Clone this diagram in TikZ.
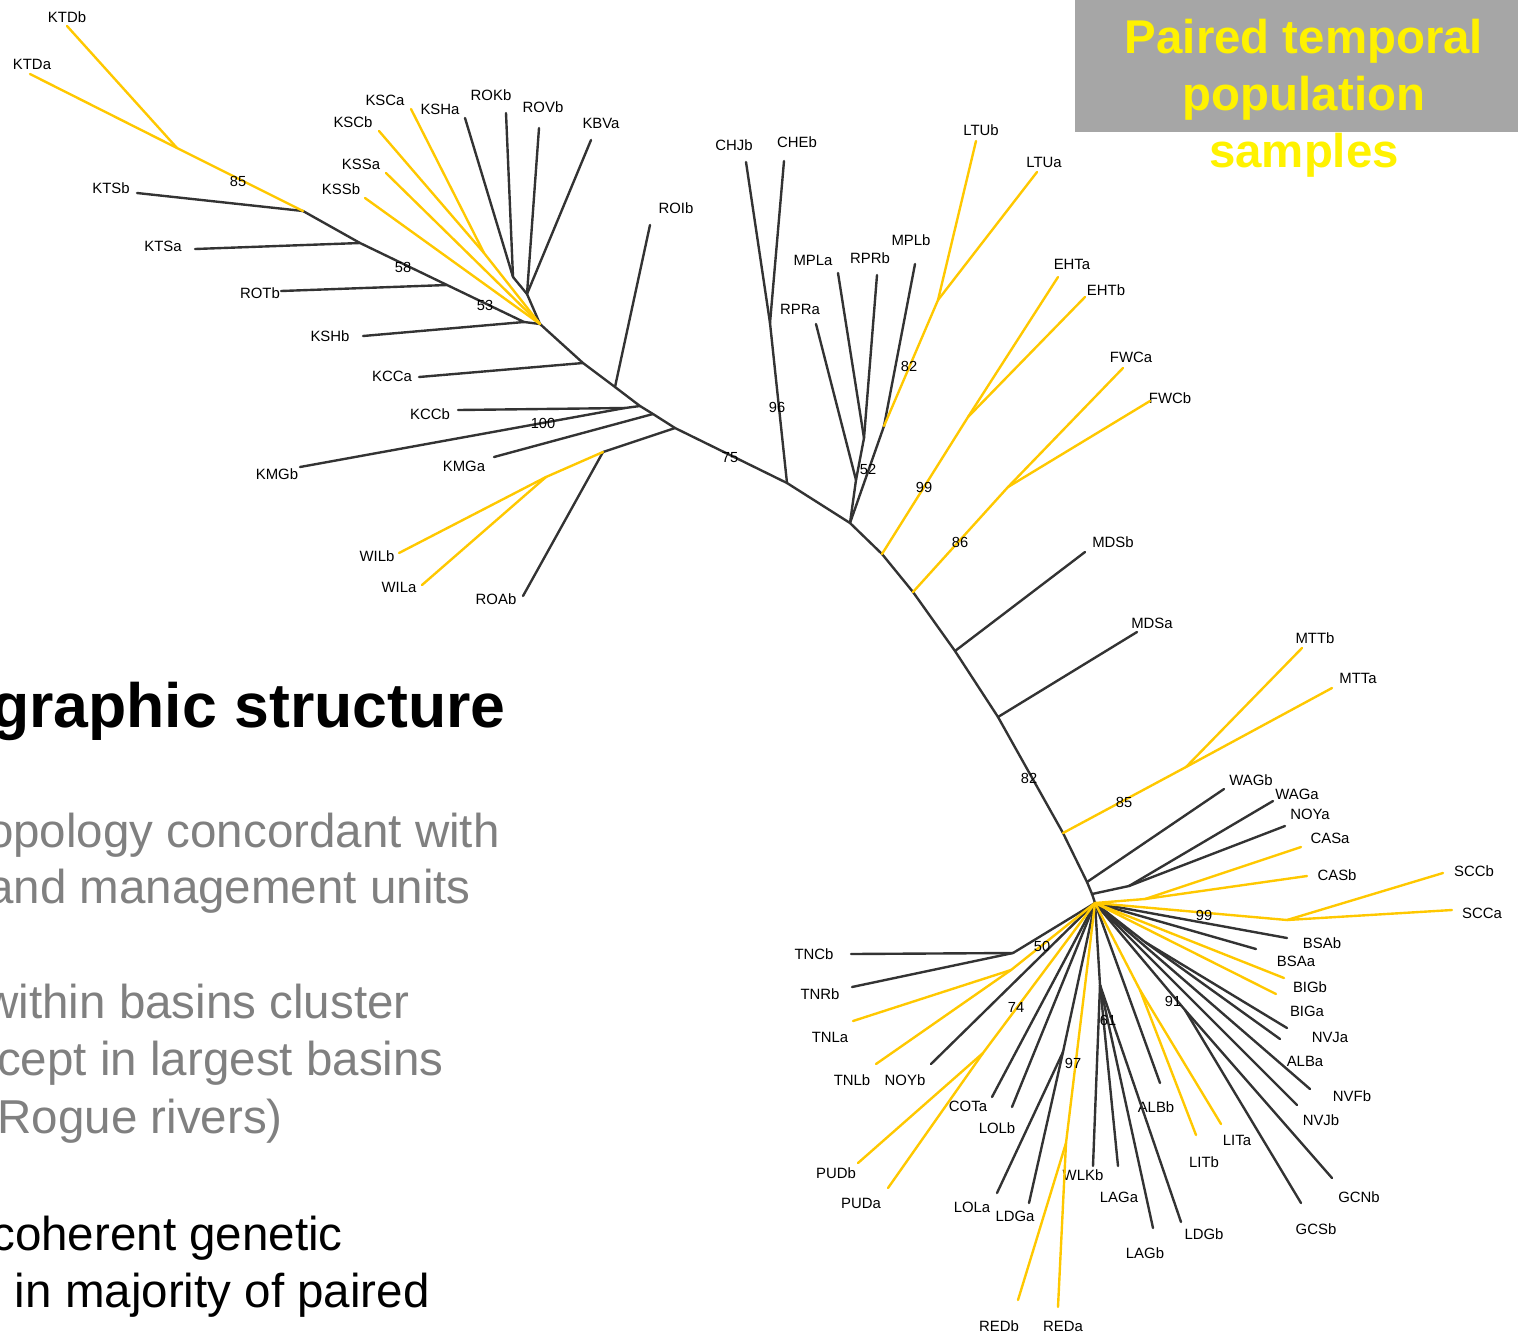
\documentclass[tikz,border=0pt]{standalone}
\usepackage{fontspec}
\setmainfont{Liberation Sans}

\definecolor{branchgrey}{HTML}{333333}
\definecolor{pairgold}{HTML}{FFC800}
\definecolor{titleyellow}{HTML}{FFF200}
\definecolor{boxgrey}{HTML}{A6A6A6}
\definecolor{textgrey}{HTML}{808080}

\tikzset{
  blk/.style={draw=branchgrey, line width=1.7pt},
  ylw/.style={draw=pairgold, line width=1.7pt},
  taxon/.style={font=\fontsize{10.6}{12}\selectfont, inner sep=0pt, text=black},
  boot/.style={font=\fontsize{10.4}{12}\selectfont, inner sep=0pt, text=black},
  slide/.style={anchor=base east, inner sep=0pt, font=\fontsize{33.8}{40}\selectfont},
}

\begin{document}
\begin{tikzpicture}[x=0.025cm, y=-0.025cm, line cap=round]
  \clip (0,0) rectangle (1518,1336);

  % --- Title box ---
  \fill[boxgrey] (1075,0) rectangle (1518,132);
  \foreach \t/\y [count=\i] in {Paired temporal/53, population/110, samples/167}
    \node[anchor=base, inner sep=0pt, text=titleyellow,
          font=\fontsize{33.7}{40}\selectfont\bfseries] (title\i) at (1304,\y) {\t};

  % --- Slide text (cut at the left edge) ---
  \node[anchor=base east, inner sep=0pt, font=\fontsize{44.5}{50}\selectfont\bfseries]
    (heading) at (506,727) {graphic structure};
  \node[slide, text=textgrey] (grey1) at (500,847) {opology concordant with};
  \node[slide, text=textgrey] (grey2) at (471,903) {and management units};
  \node[slide, text=textgrey] (grey3) at (410,1018) {within basins cluster};
  \node[slide, text=textgrey] (grey4) at (444,1075) {cept in largest basins};
  \node[slide, text=textgrey] (grey5) at (283,1133) {Rogue rivers)};
  \node[slide] (black1) at (343,1250) {coherent genetic};
  \node[slide] (black2) at (430,1307) {in majority of paired};

  % --- Internal nodes of the tree ---
  \foreach \n/\x/\y in {kTD/177/148, kTS/303/211, m1/360/243, m2/447/285,
      m3/524/322, kS/540/324, kSC/484/253, kR1/513/277, kR2/527/294,
      m4/583/363, m5/615/387, m6/640/406, kMG/625/408, m7/653/414,
      m8/675/428, kRW/603/452, kWI/546/477, m9/787/483, cCH/770/323,
      m10/850/523, cR1/856/480, cR2/864/438, cMP/884/426, cLT/938/300,
      m11/882/554, cEH/968/417, m12/913/592, cFW/1008/487, m13/955/651,
      m14/998/717, m15/1063/833, cMT/1186/767, m16/1087/882, m17/1092/894,
      cWA/1129/886, hub/1095/903, cCA/1145/899, cSC/1287/920, cNV/1145/942,
      c91/1185/1010, cTN/1013/953, cTL/1011/970, cPU/983/1053, c97/1063/1052,
      cRE/1066/1143, c61/1100/985, cLI/1140/990}
    \coordinate (\n) at (\x,\y);

  % --- Tips and sample labels ---
  \foreach \n/\tx/\ty/\lx/\ly in {KTDb/67/26/67/17, KTDa/30/74/32/64,
      KTSb/137/193/111/188, KTSa/195/249/163/246, ROTb/281/291/260/293,
      KSHb/363/336/330/336, KSCa/411/109/385/100, KSCb/379/131/353/122,
      KSSa/386/173/361/164, KSSb/365/198/341/189, KSHa/465/118/440/109,
      ROKb/506/113/491/95, ROVb/539/128/543/107, KBVa/591/140/601/123,
      ROIb/650/225/676/208, KCCa/419/377/392/376, KCCb/458/410/430/414,
      KMGb/300/467/277/474, KMGa/494/457/464/466, WILb/399/553/377/556,
      WILa/422/585/399/587, ROAb/523/596/496/599, CHJb/746/162/734/145,
      CHEb/784/161/797/142, RPRa/816/324/800/309, MPLa/838/273/813/260,
      RPRb/877/275/870/258, MPLb/915/264/911/240, LTUb/976/141/981/130,
      LTUa/1037/172/1044/162, EHTa/1058/277/1072/264, EHTb/1085/297/1106/290,
      FWCa/1123/368/1131/357, FWCb/1150/401/1170/398, MDSb/1085/552/1113/542,
      MDSa/1137/632/1152/623, MTTb/1302/648/1315/638, MTTa/1332/688/1358/678,
      WAGb/1224/789/1251/780, WAGa/1273/801/1297/794, NOYa/1285/826/1310/814,
      CASa/1301/847/1330/838, CASb/1307/876/1337/875, SCCb/1443/873/1474/871,
      SCCa/1452/910/1482/913, BSAb/1287/938/1322/943, BSAa/1256/949/1296/961,
      BIGb/1284/978/1310/987, BIGa/1276/994/1307/1011, NVJa/1287/1028/1330/1037,
      ALBa/1280/1039/1305/1061, NVFb/1310/1089/1352/1096, NVJb/1297/1105/1321/1120,
      GCNb/1332/1178/1359/1197, GCSb/1301/1203/1316/1229, TNCb/851/954/814/954,
      TNRb/852/987/820/994, TNLa/853/1021/830/1037, TNLb/876/1064/852/1080,
      NOYb/931/1064/905/1080, PUDb/858/1163/836/1173, PUDa/888/1188/861/1203,
      COTa/992/1097/968/1106, LOLb/1012/1107/997/1128, LOLa/997/1193/972/1207,
      LDGa/1029/1203/1015/1216, REDb/1018/1300/999/1326, REDa/1058/1307/1063/1326,
      WLKb/1093/1166/1083/1175, LAGa/1118/1166/1119/1197, LAGb/1153/1228/1145/1253,
      LDGb/1181/1222/1204/1234, ALBb/1160/1083/1156/1107, LITb/1196/1135/1204/1162,
      LITa/1221/1124/1237/1140}
  {
    \coordinate (\n) at (\tx,\ty);
    \node[taxon] (lab\n) at (\lx,\ly) {\n};
  }

  % --- Branches, unpaired ---
  \foreach \a/\b in {kTS/KTSb, kTS/m1, m1/KTSa, m1/m2, m2/ROTb, m2/m3,
      m3/KSHb, m3/kS, kS/kR2, kR2/kR1, kR1/KSHa, kR1/ROKb, kR2/ROVb,
      kR2/KBVa, kS/m4, m4/KCCa, m4/m5, m5/ROIb, m5/m6, m6/kMG, kMG/KCCb,
      kMG/KMGb, m6/m7, m7/KMGa, m7/m8, m8/kRW, kRW/ROAb, m8/m9, m9/cCH,
      cCH/CHJb, cCH/CHEb, m9/m10, m10/cR1, cR1/RPRa, cR1/cR2, cR2/MPLa,
      cR2/RPRb, m10/cMP, cMP/MPLb, m10/m11, m11/m12, m12/m13, m13/MDSb,
      m13/m14, m14/MDSa, m14/m15, m15/m16, m16/WAGb, m16/m17, m17/cWA,
      cWA/WAGa, cWA/NOYa, m17/hub, hub/BSAb, hub/BSAa, hub/cNV, cNV/NVJa,
      cNV/ALBa, hub/NVFb, hub/NVJb, hub/c91, c91/GCNb, c91/GCSb, hub/cTN,
      cTN/TNCb, cTN/TNRb, hub/NOYb, hub/COTa, hub/LOLb, hub/c97, c97/LOLa,
      c97/LDGa, hub/c61, c61/WLKb, c61/LAGa, c61/LAGb, c61/LDGb, hub/ALBb}
    \draw[blk] (\a) -- (\b);

  % --- Branches, paired temporal samples ---
  \foreach \a/\b in {kTS/kTD, kTD/KTDb, kTD/KTDa, kS/KSSb, kS/KSSa,
      kS/kSC, kSC/KSCb, kSC/KSCa, kRW/kWI, kWI/WILb, kWI/WILa, cMP/cLT,
      cLT/LTUb, cLT/LTUa, m11/cEH, cEH/EHTa, cEH/EHTb, m12/cFW, cFW/FWCa,
      cFW/FWCb, m15/cMT, cMT/MTTb, cMT/MTTa, hub/cCA, cCA/CASa, cCA/CASb,
      hub/cSC, cSC/SCCb, cSC/SCCa, hub/BIGb, hub/BIGa, hub/cTL, cTL/TNLa,
      cTL/TNLb, hub/cPU, cPU/PUDb, cPU/PUDa, hub/cRE, cRE/REDb, cRE/REDa,
      hub/cLI, cLI/LITb, cLI/LITa}
    \draw[ylw] (\a) -- (\b);

  % --- Bootstrap support ---
  \foreach \v/\x/\y [count=\i] in {85/238/181, 58/403/267, 53/485/305,
      100/543/423, 75/730/458, 96/777/407, 52/868/469, 82/909/366,
      99/924/487, 86/960/542, 82/1029/778, 85/1124/802, 99/1204/915,
      50/1042/946, 74/1016/1007, 97/1073/1063, 61/1108/1020, 91/1173/1001}
    \node[boot] (bs\i) at (\x,\y) {\v};
\end{tikzpicture}
\end{document}
